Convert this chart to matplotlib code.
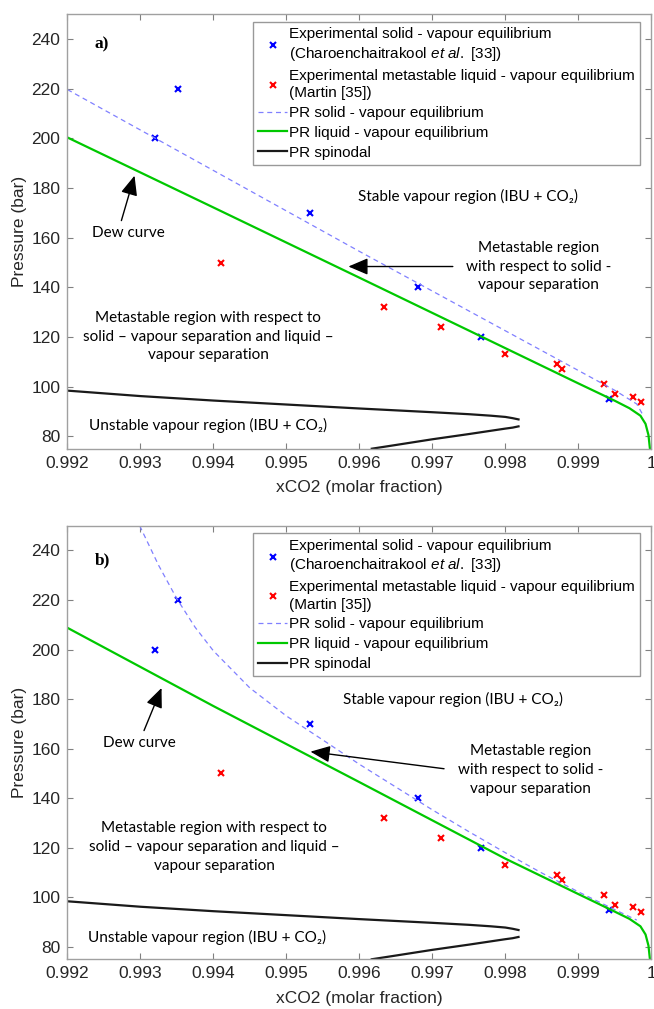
import numpy as np
import matplotlib
matplotlib.use('Agg')
import matplotlib.pyplot as plt

plt.rcParams['font.family'] = ['Liberation Sans', 'DejaVu Sans']
plt.rcParams['mathtext.fontset'] = 'custom'
plt.rcParams['mathtext.rm'] = 'Liberation Sans'
plt.rcParams['mathtext.it'] = 'Liberation Sans:italic'

# experimental points (same in both panels)
exp_solid_x = [0.99351, 0.99320, 0.99532, 0.99680, 0.99767, 0.99942]
exp_solid_p = [220, 200, 170, 140, 120, 95]
exp_liquid_x = [0.99411, 0.99634, 0.99712, 0.99800, 0.99871, 0.99877,
                0.99935, 0.99950, 0.99975, 0.99986]
exp_liquid_p = [150, 132, 124, 113, 109, 107, 101, 97, 96, 94]

# panel a) model curves
solid_a_x = [0.992, 0.993, 0.994, 0.995, 0.996, 0.997, 0.998, 0.999, 0.9995, 0.9998, 0.99988]
solid_a_p = [219.7, 203.4, 187.1, 170.8, 154.5, 138.5, 122.5, 106.5, 98.5, 93.0, 88.8]
liquid_a_x = [0.992, 0.994, 0.996, 0.998, 0.999, 0.9995, 0.9997, 0.99985, 0.99992, 0.99996, 0.99998]
liquid_a_p = [200.4, 172.2, 143.9, 115.5, 101.3, 94.3, 91.3, 88.3, 85.0, 80.5, 75.0]

# panel b) model curves
solid_b_x = [0.99299, 0.99325, 0.99350, 0.99375, 0.99400, 0.99450, 0.99500, 0.99550,
             0.99600, 0.99650, 0.99700, 0.99750, 0.99800, 0.99850, 0.99900, 0.99950, 0.99980]
solid_b_p = [250.0, 234.0, 220.5, 209.0, 199.5, 184.5, 173.2, 163.5,
             153.7, 144.5, 135.3, 126.5, 118.0, 109.8, 102.2, 95.0, 90.8]
liquid_b_x = [0.992, 0.994, 0.996, 0.998, 0.999, 0.9995, 0.9997, 0.99985, 0.99992, 0.99996, 0.99998]
liquid_b_p = [208.8, 177.2, 146.5, 115.6, 101.3, 94.2, 91.3, 88.3, 85.0, 80.5, 75.0]

# spinodal: upper branch, gap at the nose, lower branch
spinodal_x = [0.992, 0.993, 0.994, 0.995, 0.996, 0.997, 0.9975, 0.9978, 0.9980, 0.9981, 0.99818,
              np.nan,
              0.99818, 0.9981, 0.9980, 0.9975, 0.9970, 0.9965, 0.99617]
spinodal_p = [98.4, 96.2, 94.4, 92.8, 91.2, 89.7, 88.9, 88.3, 87.8, 87.3, 86.8,
              np.nan,
              84.0, 83.5, 83.1, 80.9, 78.8, 76.5, 75.0]

x_ticks = [0.992, 0.993, 0.994, 0.995, 0.996, 0.997, 0.998, 0.999, 1.0]
x_ticklabels = ['0.992', '0.993', '0.994', '0.995', '0.996', '0.997', '0.998', '0.999', '1']
y_ticks = [80, 100, 120, 140, 160, 180, 200, 220, 240]

label_solid = 'Experimental solid - vapour equilibrium\n(Charoenchaitrakool $\\it{et\\ al.}$ [33])'
label_liquid = 'Experimental metastable liquid - vapour equilibrium\n(Martin [35])'

ann_font = ['Lato', 'DejaVu Sans']
arrow_props = dict(arrowstyle='-|>,head_length=0.75,head_width=0.32',
                   color='black', lw=1.0, mutation_scale=16, shrinkA=0, shrinkB=0)


def draw_panel(ax, solid_x, solid_p, liquid_x, liquid_p, letter, pos):
    ax.plot(exp_solid_x, exp_solid_p, 'x', color='#0000ff', ms=4, mew=1.5, label=label_solid)
    ax.plot(exp_liquid_x, exp_liquid_p, 'x', color='#ff0000', ms=4, mew=1.5, label=label_liquid)
    ax.plot(solid_x, solid_p, '--', color='#8080ff', lw=0.9, dashes=(4, 3),
            label='PR solid - vapour equilibrium')
    ax.plot(liquid_x, liquid_p, '-', color='#00c800', lw=1.6, label='PR liquid - vapour equilibrium')
    ax.plot(spinodal_x, spinodal_p, '-', color='#1a1a1a', lw=1.6, label='PR spinodal')

    ax.set_xlim(0.992, 1.0)
    ax.set_ylim(75, 250)
    ax.set_xticks(x_ticks)
    ax.set_xticklabels(x_ticklabels)
    ax.set_yticks(y_ticks)
    ax.tick_params(direction='in', top=True, right=True, length=4, width=0.8,
                   color='#808080', labelsize=12.5, labelcolor='#262626', pad=5)
    for s in ax.spines.values():
        s.set_color('#a0a0a0')
        s.set_linewidth(1.0)
    ax.set_xlabel('xCO2 (molar fraction)', fontsize=12.5, color='#262626', labelpad=7)
    ax.set_ylabel('Pressure (bar)', fontsize=12.5, color='#262626', labelpad=3)

    leg = ax.legend(loc='upper right', bbox_to_anchor=(0.981, 0.982), borderaxespad=0,
                    fontsize=11, frameon=True, fancybox=False, handlelength=1.9,
                    handletextpad=0.15, labelspacing=0.38, borderpad=0.33)
    leg.get_frame().set_edgecolor('#808080')
    leg.get_frame().set_linewidth(1.0)
    for t in leg.get_texts():
        t.set_linespacing(1.3)

    ax.text(pos['letter'][0], pos['letter'][1], letter, fontsize=12.5, fontweight='bold',
            family='Liberation Serif', ha='center', va='center')
    ax.text(pos['stable'][0], pos['stable'][1], 'Stable vapour region (IBU + CO\u2082)',
            family=ann_font, fontsize=11, ha='center', va='center')
    ax.text(pos['dew'][0], pos['dew'][1], 'Dew curve',
            family=ann_font, fontsize=11, ha='center', va='center')
    ax.annotate('', xy=pos['dew_head'], xytext=pos['dew_tail'], arrowprops=arrow_props)
    ax.text(pos['meta1'][0], pos['meta1'][1],
            'Metastable region\nwith respect to solid -\nvapour separation',
            family=ann_font, fontsize=11, ha='center', va='center', linespacing=1.42)
    ax.annotate('', xy=pos['meta_head'], xytext=pos['meta_tail'], arrowprops=arrow_props)
    ax.text(pos['meta2'][0], pos['meta2'][1],
            'Metastable region with respect to\nsolid \u2013 vapour separation and liquid \u2013\nvapour separation',
            family=ann_font, fontsize=11, ha='center', va='center', linespacing=1.42)
    ax.text(pos['unstable'][0], pos['unstable'][1], 'Unstable vapour region (IBU + CO\u2082)',
            family=ann_font, fontsize=11, ha='center', va='center')


fig = plt.figure(figsize=(6.54, 10.09), dpi=100)
ax_a = fig.add_axes([0.103, 0.5553, 0.893, 0.4305])
ax_b = fig.add_axes([0.103, 0.0493, 0.893, 0.4297])

pos_a = dict(letter=(0.99247, 237.9), stable=(0.99749, 176.8), dew=(0.99283, 161.8),
             dew_tail=(0.99274, 166.9), dew_head=(0.99292, 185.0),
             meta1=(0.99845, 148.4), meta_tail=(0.99728, 148.4), meta_head=(0.99585, 148.4),
             meta2=(0.99393, 120.2), unstable=(0.99393, 84.3))
pos_b = dict(letter=(0.99248, 236.0), stable=(0.99728, 180.0), dew=(0.99299, 162.1),
             dew_tail=(0.99305, 167.3), dew_head=(0.99329, 184.5),
             meta1=(0.99835, 151.4), meta_tail=(0.99716, 151.9), meta_head=(0.99533, 158.8),
             meta2=(0.99401, 120.3), unstable=(0.99391, 83.9))

draw_panel(ax_a, solid_a_x, solid_a_p, liquid_a_x, liquid_a_p, 'a)', pos_a)
draw_panel(ax_b, solid_b_x, solid_b_p, liquid_b_x, liquid_b_p, 'b)', pos_b)

fig.savefig('out.png', dpi=100)
